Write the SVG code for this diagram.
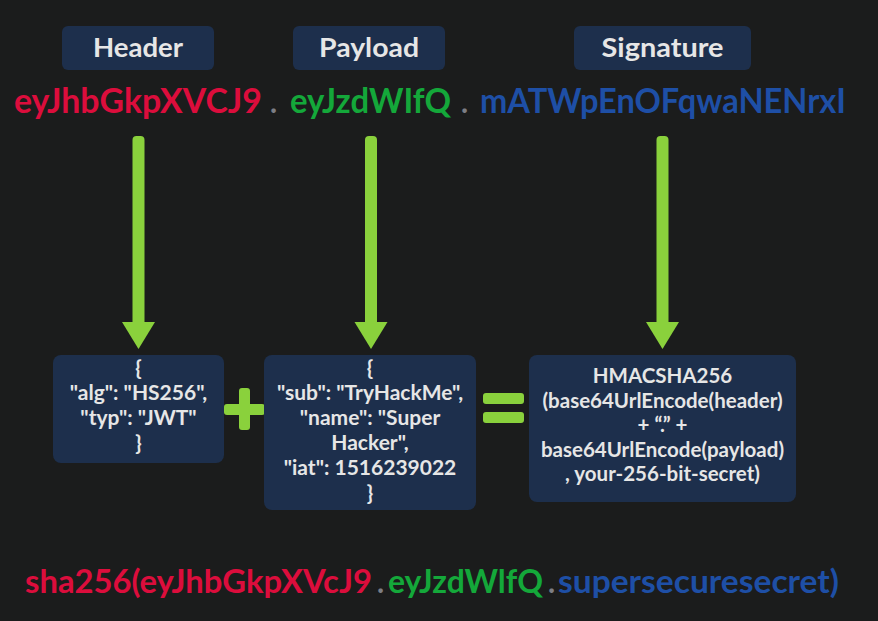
<svg xmlns="http://www.w3.org/2000/svg" width="878" height="621" viewBox="0 0 878 621">
<defs>
<style>
.bg{fill:#1b1c1c}
.lbl{fill:#1d2f4c}
.node{fill:#1d2f4c}
.lt{font-family:Lato,"Open Sans",sans-serif;font-weight:700;fill:#e6e6e6;text-anchor:middle}
.tok{font-family:Lato,"Open Sans",sans-serif;font-weight:700}
.red{fill:#dc0d3c}
.grn{fill:#14a83a}
.blu{fill:#1e4fa6}
.dot{fill:#7c7e84}
.g{fill:#8ad13c}
</style>
</defs>
<rect class="bg" x="0" y="0" width="878" height="621"/>

<g id="label-header">
<rect class="lbl" x="62" y="26" width="152" height="44" rx="6"/>
<text class="lt" x="138" y="57" font-size="26" textLength="90" lengthAdjust="spacingAndGlyphs">Header</text>
</g>
<g id="label-payload">
<rect class="lbl" x="293" y="26" width="152" height="44" rx="6"/>
<text class="lt" x="369" y="57" font-size="26" textLength="100" lengthAdjust="spacingAndGlyphs">Payload</text>
</g>
<g id="label-signature">
<rect class="lbl" x="574" y="26" width="177" height="44" rx="6"/>
<text class="lt" x="662.5" y="57" font-size="26" textLength="122" lengthAdjust="spacingAndGlyphs">Signature</text>
</g>

<g id="token">
<text class="tok red" x="14" y="113" font-size="35" textLength="248" lengthAdjust="spacingAndGlyphs">eyJhbGkpXVCJ9</text>
<text class="tok dot" x="270" y="113" font-size="30">.</text>
<text class="tok grn" x="290" y="113" font-size="35" textLength="161" lengthAdjust="spacingAndGlyphs">eyJzdWIfQ</text>
<text class="tok dot" x="461" y="113" font-size="30">.</text>
<text class="tok blu" x="480" y="113" font-size="35" textLength="366" lengthAdjust="spacingAndGlyphs">mATWpEnOFqwaNENrxI</text>
</g>

<g id="connectors">
<g class="g">
<rect x="132.5" y="136" width="12" height="190" rx="4"/>
<path d="M122,322 L155,322 L138.5,349 Z"/>
<rect x="365" y="136" width="12" height="190" rx="4"/>
<path d="M354.5,322 L387.5,322 L371,349 Z"/>
<rect x="656.5" y="136" width="12" height="190" rx="4"/>
<path d="M646,322 L679,322 L662.5,349 Z"/>
</g>
</g>

<g id="node-header-json">
<rect class="node" x="53" y="355" width="171" height="108" rx="8"/>
<text class="lt" font-size="21"><tspan x="138.5" y="375">{</tspan><tspan x="138.5" y="400">"alg": "HS256",</tspan><tspan x="138.5" y="425">"typ": "JWT"</tspan><tspan x="138.5" y="450">}</tspan></text>
</g>

<g id="plus">
<rect class="g" x="224" y="404" width="41" height="11" rx="3"/>
<rect class="g" x="239" y="388" width="11" height="42" rx="3"/>
</g>

<g id="node-payload-json">
<rect class="node" x="264" y="355" width="212" height="155" rx="8"/>
<text class="lt" font-size="21"><tspan x="370" y="375">{</tspan><tspan x="370" y="400">"sub": "TryHackMe",</tspan><tspan x="370" y="425">"name": "Super</tspan><tspan x="370" y="450">Hacker",</tspan><tspan x="370" y="475">"iat": 1516239022</tspan><tspan x="370" y="500">}</tspan></text>
</g>

<g id="equals">
<rect class="g" x="483" y="393" width="41" height="11" rx="3"/>
<rect class="g" x="483" y="412" width="41" height="11" rx="3"/>
</g>

<g id="node-signature">
<rect class="node" x="529" y="355" width="267" height="147" rx="8"/>
<text class="lt" font-size="20.5"><tspan x="662.5" y="383">HMACSHA256</tspan><tspan x="662.5" y="408">(base64UrlEncode(header)</tspan><tspan x="662.5" y="432">+ “.” +</tspan><tspan x="662.5" y="457">base64UrlEncode(payload)</tspan><tspan x="662.5" y="481">, your-256-bit-secret)</tspan></text>
</g>

<g id="formula">
<text class="tok red" x="25" y="593" font-size="32.5" textLength="347" lengthAdjust="spacingAndGlyphs">sha256(eyJhbGkpXVcJ9</text>
<text class="tok dot" x="377" y="593" font-size="30">.</text>
<text class="tok grn" x="388" y="593" font-size="32.5" textLength="155" lengthAdjust="spacingAndGlyphs">eyJzdWlfQ</text>
<text class="tok dot" x="548" y="593" font-size="30">.</text>
<text class="tok blu" x="558" y="593" font-size="32.5" textLength="281" lengthAdjust="spacingAndGlyphs">supersecuresecret)</text>
</g>
</svg>
